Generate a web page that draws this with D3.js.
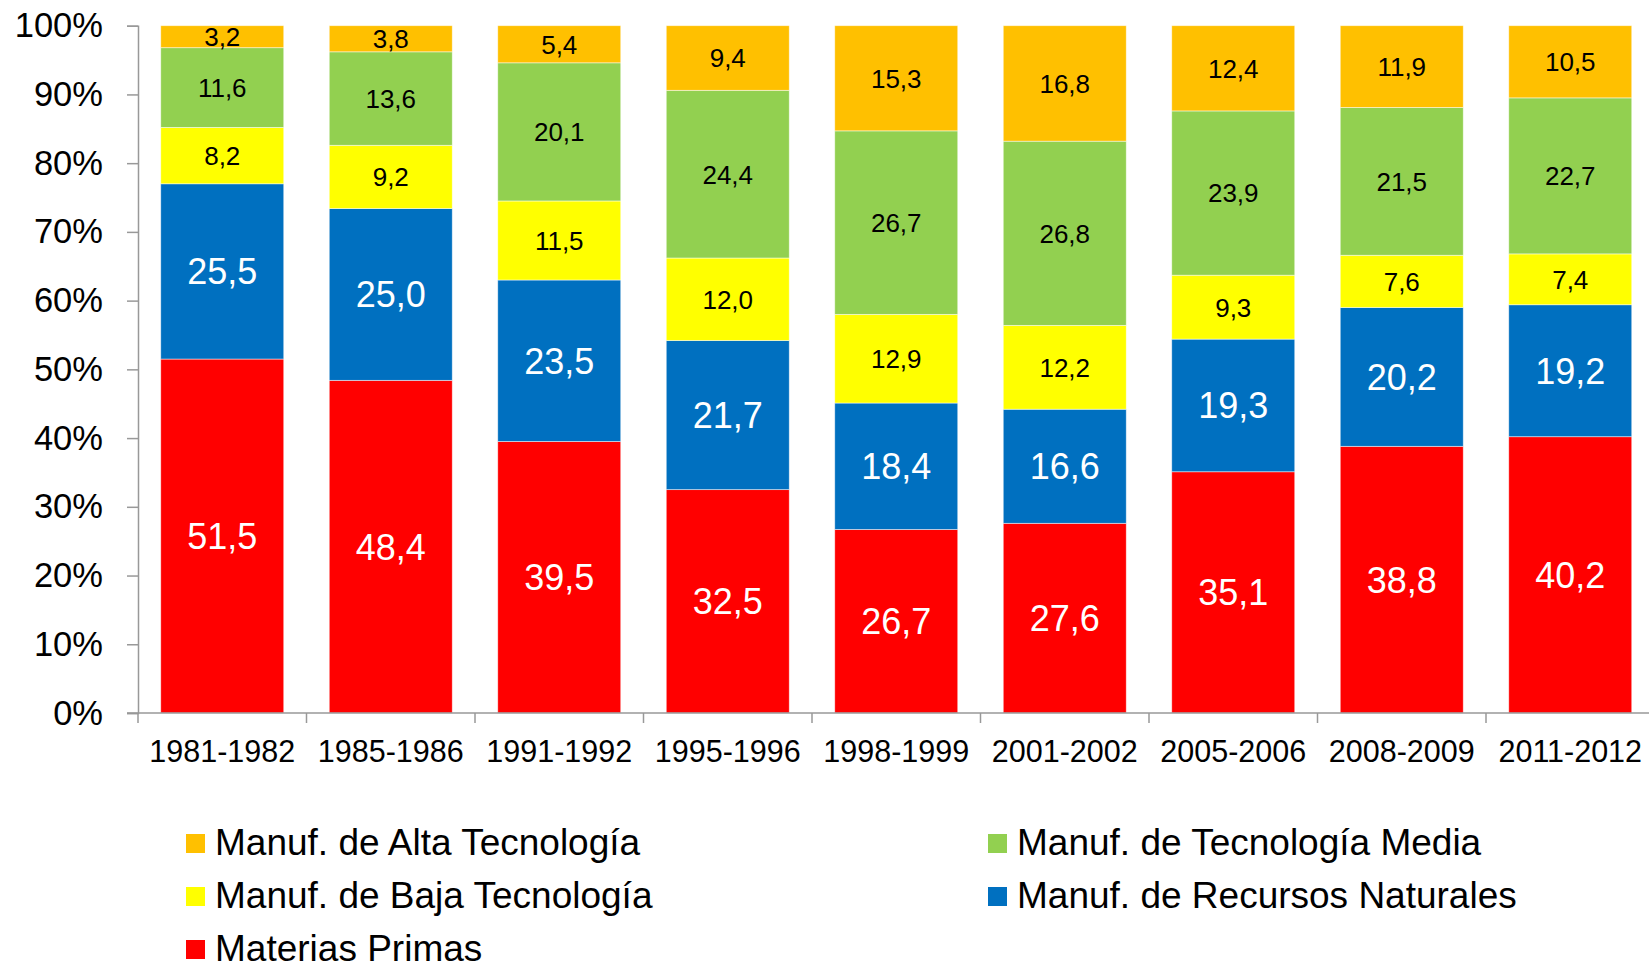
<!doctype html>
<html>
  <head>
    <meta charset="utf-8">
    <title>Exportaciones por intensidad tecnológica</title>
    <script src="https://cdnjs.cloudflare.com/ajax/libs/d3/7.8.5/d3.min.js"></script>
    <style>
      body { margin: 0; background: #fff; }
      svg text { font-family: "Liberation Sans", Arial, sans-serif; }
    </style>
  </head>
  <body>
    <div id="chart"></div>
    <script>
      // periods on the x axis
      const periods = ['1981-1982', '1985-1986', '1991-1992', '1995-1996', '1998-1999',
                       '2001-2002', '2005-2006', '2008-2009', '2011-2012'];

      // shares (%) per category, bottom to top of the stack
      const materiasPrimas = [51.5, 48.4, 39.5, 32.5, 26.7, 27.6, 35.1, 38.8, 40.2];
      const recursosNaturales = [25.5, 25.0, 23.5, 21.7, 18.4, 16.6, 19.3, 20.2, 19.2];
      const bajaTec = [8.2, 9.2, 11.5, 12.0, 12.9, 12.2, 9.3, 7.6, 7.4];
      const mediaTec = [11.6, 13.6, 20.1, 24.4, 26.7, 26.8, 23.9, 21.5, 22.7];
      const altaTec = [3.2, 3.8, 5.4, 9.4, 15.3, 16.8, 12.4, 11.9, 10.5];

      const yTicks = [0, 10, 20, 30, 40, 50, 60, 70, 80, 90, 100];

      const FONT = '"Liberation Sans", Arial, sans-serif';

      const series = [
        { key: 'mp', name: 'Materias Primas', values: materiasPrimas, color: '#FF0000', big: true },
        { key: 'rn', name: 'Manuf. de Recursos Naturales', values: recursosNaturales, color: '#0070C0', big: true },
        { key: 'bt', name: 'Manuf. de Baja Tecnología', values: bajaTec, color: '#FFFF00', big: false },
        { key: 'mt', name: 'Manuf. de Tecnología Media', values: mediaTec, color: '#92D050', big: false },
        { key: 'at', name: 'Manuf. de Alta Tecnología', values: altaTec, color: '#FFC000', big: false }
      ];

      // build a table for d3.stack
      const table = periods.map((p, i) => {
        const row = { period: p };
        series.forEach(s => { row[s.key] = s.values[i]; });
        return row;
      });

      const width = 1649, height = 970;
      const svg = d3.select('#chart').append('svg')
        .attr('width', width)
        .attr('height', height)
        .style('font-family', FONT);

      const x = d3.scaleBand()
        .domain(periods)
        .range([138, 138 + 9 * 168.5])
        .paddingInner(0.27)
        .paddingOuter(0.135);

      const y = d3.scaleLinear()
        .domain([0, 100])
        .range([713, 25.7]);

      const stacked = d3.stack().keys(series.map(s => s.key))(table);

      const layers = svg.selectAll('g.layer')
        .data(stacked)
        .join('g')
        .attr('class', 'layer')
        .attr('fill', (d, i) => series[i].color);

      layers.selectAll('rect')
        .data(d => d)
        .join('rect')
        .attr('x', d => x(d.data.period))
        .attr('width', x.bandwidth())
        .attr('y', d => y(d[1]))
        .attr('height', d => y(d[0]) - y(d[1]))
        .attr('stroke', 'rgba(255,255,255,0.6)')
        .attr('stroke-width', 0.8);

      // value labels
      layers.each(function(layer, i) {
        const s = series[i];
        d3.select(this).selectAll('text')
          .data(layer)
          .join('text')
          .attr('x', d => x(d.data.period) + x.bandwidth() / 2)
          .attr('y', d => (y(d[0]) + y(d[1])) / 2)
          .attr('dy', '0.36em')
          .attr('text-anchor', 'middle')
          .attr('font-family', FONT)
          .attr('font-size', s.big ? 36 : 26)
          .attr('fill', s.big ? '#fff' : '#000')
          .text(d => d3.format('.1f')(d[1] - d[0]).replace('.', ','));
      });

      // y axis
      const yAxis = svg.append('g')
        .attr('transform', 'translate(138,0)')
        .call(d3.axisLeft(y).tickValues(yTicks).tickFormat(d => d + '%').tickSize(11).tickPadding(24));
      yAxis.selectAll('text').attr('font-size', 34.5).attr('fill', '#000').attr('font-family', FONT);

      // x axis
      const xAxis = svg.append('g')
        .attr('transform', 'translate(0,713)')
        .call(d3.axisBottom(x).tickSize(0).tickPadding(0));
      xAxis.select('.domain').remove();
      xAxis.selectAll('text')
        .attr('font-size', 30.5)
        .attr('fill', '#000')
        .attr('y', 49)
        .attr('dy', 0)
        .attr('font-family', FONT);

      // baseline and boundary ticks
      svg.append('line')
        .attr('x1', 127).attr('x2', width)
        .attr('y1', y(0)).attr('y2', y(0))
        .attr('stroke', '#999').attr('stroke-width', 1.5);
      svg.selectAll('line.xtick')
        .data(periods)
        .join('line')
        .attr('class', 'xtick')
        .attr('x1', d => x(d) - x.step() * x.paddingOuter())
        .attr('x2', d => x(d) - x.step() * x.paddingOuter())
        .attr('y1', y(0)).attr('y2', y(0) + 10)
        .attr('stroke', '#999').attr('stroke-width', 1.5);
      yAxis.selectAll('.domain, .tick line').attr('stroke', '#999').attr('stroke-width', 1.5);

      // legend
      const legendItems = [
        { s: series[4], col: 0, row: 0 },
        { s: series[3], col: 1, row: 0 },
        { s: series[2], col: 0, row: 1 },
        { s: series[1], col: 1, row: 1 },
        { s: series[0], col: 0, row: 2 }
      ];
      const colX = [186, 988];
      const legend = svg.append('g');
      const li = legend.selectAll('g')
        .data(legendItems)
        .join('g')
        .attr('transform', d => `translate(${colX[d.col]},${855 + d.row * 53})`);
      li.append('rect')
        .attr('x', 0).attr('y', -21)
        .attr('width', 19).attr('height', 19)
        .attr('fill', d => d.s.color);
      li.append('text')
        .attr('x', 29).attr('y', 0)
        .attr('font-family', FONT)
        .attr('font-size', 37)
        .attr('fill', '#000')
        .text(d => d.s.name);
    </script>
  </body>
</html>
